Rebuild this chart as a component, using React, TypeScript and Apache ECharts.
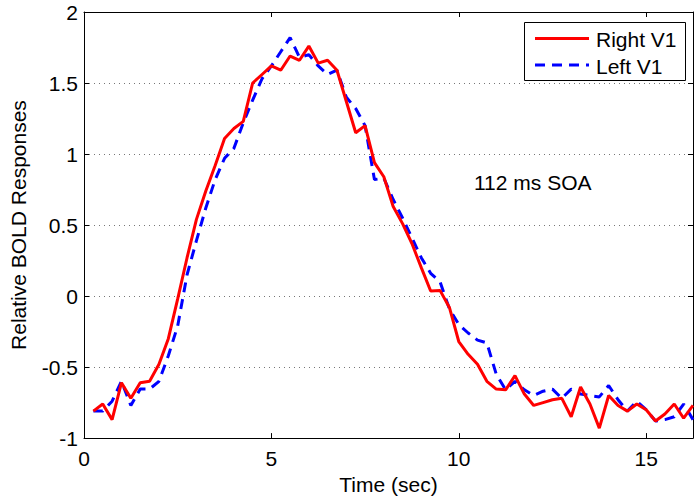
import React, { useEffect, useRef } from "react";
import * as echarts from "echarts";

const times = [
  0.25, 0.5, 0.75, 1.0, 1.25, 1.5, 1.75, 2.0, 2.25, 2.5, 2.75, 3.0, 3.25, 3.5, 3.75, 4.0,
  4.25, 4.5, 4.75, 5.0, 5.25, 5.5, 5.75, 6.0, 6.25, 6.5, 6.75, 7.0, 7.25, 7.5, 7.75, 8.0,
  8.25, 8.5, 8.75, 9.0, 9.25, 9.5, 9.75, 10.0, 10.25, 10.5, 10.75, 11.0, 11.25, 11.5, 11.75, 12.0,
  12.25, 12.5, 12.75, 13.0, 13.25, 13.5, 13.75, 14.0, 14.25, 14.5, 14.75, 15.0, 15.25, 15.5, 15.75, 16.0,
  16.25,
];

const rightV1 = [
  -0.81, -0.76, -0.87, -0.61, -0.72, -0.61, -0.6, -0.48, -0.3, -0.02, 0.27, 0.54, 0.74, 0.92, 1.11, 1.18,
  1.23, 1.5, 1.56, 1.62, 1.59, 1.69, 1.66, 1.76, 1.64, 1.66, 1.59, 1.37, 1.15, 1.2, 0.94, 0.84,
  0.63, 0.51, 0.37, 0.2, 0.036, 0.04, -0.08, -0.32, -0.41, -0.48, -0.6, -0.655, -0.66, -0.56, -0.69, -0.77,
  -0.75, -0.73, -0.72, -0.85, -0.64, -0.76, -0.93, -0.7, -0.77, -0.81, -0.76, -0.8, -0.88, -0.83, -0.76, -0.86,
  -0.77,
];

const leftV1 = [
  -0.81, -0.81, -0.74, -0.6, -0.77, -0.655, -0.655, -0.6, -0.42, -0.21, 0.15, 0.39, 0.62, 0.82, 0.97, 1.04,
  1.22, 1.38, 1.53, 1.62, 1.72, 1.82, 1.68, 1.7, 1.62, 1.56, 1.59, 1.4, 1.32, 1.2, 0.82, 0.83,
  0.68, 0.55, 0.41, 0.27, 0.16, 0.1, -0.09, -0.2, -0.26, -0.31, -0.33, -0.55, -0.66, -0.6, -0.66, -0.7,
  -0.67, -0.655, -0.72, -0.655, -0.69, -0.7, -0.71, -0.63, -0.73, -0.81, -0.74, -0.8, -0.88, -0.87, -0.85, -0.76,
  -0.87,
];

const seriesNames = ["Right V1", "Left V1"];
const seriesColors = ["#ff0000", "#0000ff"];
const annotation = "112 ms SOA";
const xTitle = "Time (sec)";
const yTitle = "Relative BOLD Responses";

const FONT = "'Liberation Sans', Arial, Helvetica, sans-serif";
const DASH = [10, 7];

export default function App() {
  const ref = useRef<HTMLDivElement>(null);

  useEffect(() => {
    if (!ref.current) return;
    const chart = echarts.init(ref.current, undefined, { renderer: "svg" });
    const toPairs = (vals: number[]) => times.map((t, i) => [t, vals[i]]);

    const textStyle = { fontFamily: FONT, fontSize: 21, color: "#000" };
    const frameLine = { show: true, onZero: false, lineStyle: { color: "#000", width: 1 } };
    const frameTick = { show: true, inside: true, length: 5, lineStyle: { color: "#000" } };

    chart.setOption({
      animation: false,
      backgroundColor: "#fff",
      textStyle: { fontFamily: FONT },
      grid: { left: 83, right: 6, top: 12, bottom: 61, containLabel: false },
      xAxis: [
        {
          type: "value",
          min: 0,
          max: 16.25,
          interval: 5,
          name: xTitle,
          nameLocation: "middle",
          nameGap: 33,
          nameTextStyle: textStyle,
          axisLine: frameLine,
          axisTick: frameTick,
          axisLabel: {
            ...textStyle,
            margin: 10,
            showMaxLabel: false,
            formatter: (v: number) => (v % 5 === 0 ? String(v) : ""),
          },
          splitLine: { show: false },
        },
        {
          type: "value",
          position: "top",
          min: 0,
          max: 16.25,
          interval: 5,
          axisLine: frameLine,
          axisTick: frameTick,
          axisLabel: { show: false },
          splitLine: { show: false },
        },
      ],
      yAxis: [
        {
          type: "value",
          min: -1,
          max: 2,
          interval: 0.5,
          name: yTitle,
          nameLocation: "middle",
          nameGap: 55,
          nameRotate: 90,
          nameTextStyle: textStyle,
          axisLine: frameLine,
          axisTick: frameTick,
          axisLabel: { ...textStyle, margin: 6 },
          splitLine: {
            show: true,
            lineStyle: { color: "#777", width: 1, type: [1, 4] },
          },
        },
        {
          type: "value",
          position: "right",
          min: -1,
          max: 2,
          interval: 0.5,
          axisLine: frameLine,
          axisTick: frameTick,
          axisLabel: { show: false },
          splitLine: { show: false },
        },
      ],
      graphic: [
        {
          type: "text",
          x: 474,
          y: 182,
          z: 100,
          style: { text: annotation, font: `21px ${FONT}`, fill: "#000", verticalAlign: "middle" },
        },
        {
          type: "group",
          z: 100,
          children: [
            {
              type: "rect",
              z: 100,
              shape: { x: 524.5, y: 22.5, width: 161, height: 58 },
              style: { fill: "#fff", stroke: "#000", lineWidth: 1 },
            },
            {
              type: "line",
              z: 101,
              shape: { x1: 535, y1: 38.5, x2: 589, y2: 38.5 },
              style: { stroke: seriesColors[0], lineWidth: 3 },
            },
            {
              type: "line",
              z: 101,
              shape: { x1: 535, y1: 65, x2: 589, y2: 65 },
              style: { stroke: seriesColors[1], lineWidth: 3, lineDash: DASH },
            },
            {
              type: "text",
              z: 101,
              x: 596,
              y: 39.5,
              style: { text: seriesNames[0], font: `21px ${FONT}`, fill: "#000", verticalAlign: "middle" },
            },
            {
              type: "text",
              z: 101,
              x: 596,
              y: 66,
              style: { text: seriesNames[1], font: `21px ${FONT}`, fill: "#000", verticalAlign: "middle" },
            },
          ],
        },
      ],
      series: [
        {
          name: seriesNames[0],
          type: "line",
          data: toPairs(rightV1),
          showSymbol: false,
          symbol: "none",
          lineStyle: { color: seriesColors[0], width: 3, type: "solid" },
          itemStyle: { color: seriesColors[0] },
          z: 3,
        },
        {
          name: seriesNames[1],
          type: "line",
          data: toPairs(leftV1),
          showSymbol: false,
          symbol: "none",
          lineStyle: { color: seriesColors[1], width: 3, type: DASH },
          itemStyle: { color: seriesColors[1] },
          z: 2,
        },
      ],
    });

    return () => chart.dispose();
  }, []);

  return (
    <div
      ref={ref}
      style={{ position: "fixed", left: 0, top: 0, width: 699, height: 500 }}
    />
  );
}
